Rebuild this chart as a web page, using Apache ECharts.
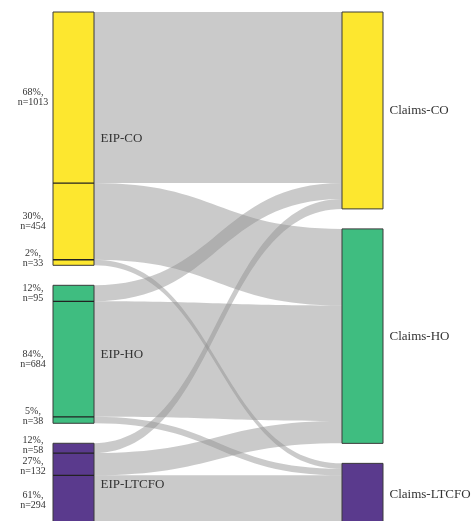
<!DOCTYPE html>
<html><head><meta charset="utf-8">
<script src="https://cdn.jsdelivr.net/npm/echarts@6/dist/echarts.min.js"></script>
<style>html,body{margin:0;padding:0;background:#fff}#c{width:474px;height:521px}</style>
</head><body><div id="c"></div>
<script>
const sources = ['EIP-CO', 'EIP-HO', 'EIP-LTCFO'];
const targets = ['Claims-CO', 'Claims-HO', 'Claims-LTCFO'];
const toCO = [1013, 95, 58];
const toHO = [454, 684, 132];
const toLTCFO = [33, 38, 294];
const nodeColors = ['#FDE72F', '#3FBD80', '#5A3A8D'];

const flows = [toCO, toHO, toLTCFO];
const nodes = [];
sources.forEach((n, i) => nodes.push({ name: n, itemStyle: { color: nodeColors[i] } }));
targets.forEach((n, i) => nodes.push({ name: n, itemStyle: { color: nodeColors[i] } }));
const links = [];
sources.forEach((s, i) => targets.forEach((t, j) => links.push({ source: s, target: t, value: flows[j][i] })));

const chart = echarts.init(document.getElementById('c'), null, { renderer: 'canvas' });
const font = '"Liberation Serif", "Times New Roman", serif';
chart.setOption({
  animation: false,
  series: [{
    type: 'sankey', left: 53, right: 91, top: 12, height: 513,
    nodeWidth: 41, nodeGap: 20, layoutIterations: 0, draggable: false,
    emphasis: { disabled: true },
    itemStyle: { borderColor: '#3a3a3a', borderWidth: 1 },
    lineStyle: { color: '#909090', opacity: 0.48, curveness: 0.5 },
    label: { position: 'right', distance: 6, fontFamily: font, fontSize: 13, color: '#333' },
    data: nodes, links: links
  }]
});

// overlay segment separators and percentage labels from the library's own layout
const sm = chart.getModel().getSeriesByIndex(0);
const graph = sm.getGraph();
const li = sm.layoutInfo;
const elements = [];
graph.nodes.forEach(node => {
  if (node.dataIndex >= sources.length) return;
  const nl = node.getLayout();
  let total = 0;
  node.outEdges.forEach(e => { total += e.getValue(); });
  const nodeBottom = li.y + nl.y + nl.dy;
  const labels = [];
  node.outEdges.forEach((edge, k) => {
    const el = edge.getLayout();
    const yTop = li.y + nl.y + el.sy;
    if (k > 0) {
      elements.push({ type: 'line', z: 100, silent: true,
        shape: { x1: li.x + nl.x, y1: yTop, x2: li.x + nl.x + nl.dx, y2: yTop },
        style: { stroke: '#222', lineWidth: 1.3 } });
    }
    const v = edge.getValue();
    labels.push({ v: v, pct: Math.round(v / total * 100), c: Math.min(yTop + el.dy / 2, nodeBottom - 7) });
  });
  for (let i = 1; i < labels.length; i++) {
    const d = 21 - (labels[i].c - labels[i - 1].c);
    if (d > 0) { labels[i - 1].c -= d / 2; labels[i].c += d / 2; }
  }
  labels.forEach(l => {
    elements.push({ type: 'text', z: 100, silent: true,
      x: li.x + nl.x - 20, y: l.c,
      style: { text: l.pct + '%,\nn=' + l.v, fill: '#333', font: '10px ' + font,
        align: 'center', verticalAlign: 'middle', textAlign: 'center', textVerticalAlign: 'middle', lineHeight: 10 } });
  });
});
chart.setOption({ graphic: { elements: elements } });
</script>
</body></html>
